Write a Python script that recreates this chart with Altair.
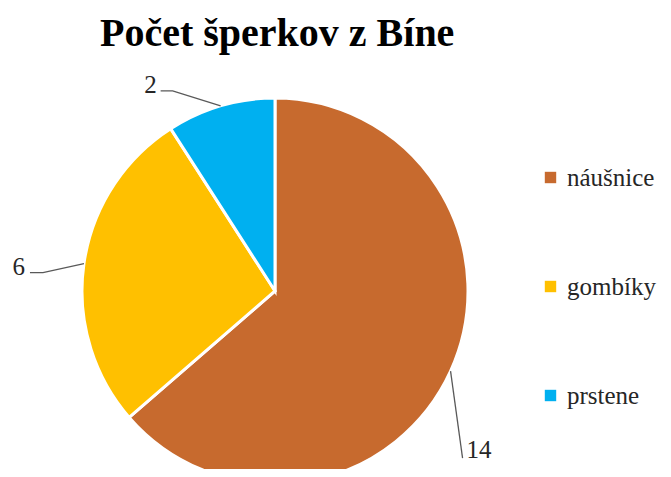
import math
import altair as alt
import pandas as pd

# ---- data ----
categories = ["náušnice", "gombíky", "prstene"]
values = [14, 6, 2]
colors = ["#C76A2E", "#FFC000", "#00B0F0"]
title_text = "Počet šperkov z Bíne"

# ---- layout (view pixels) ----
CX, CY, R = 267, 223, 193
# leader-line layout relative to slice edge point: elbow, end, text pos, align
label_layout = [
    {"elbow": (12, 87), "end": (12, 87), "text": (16, 87), "align": "left"},
    {"elbow": (-41, 9), "end": (-54, 9), "text": (-59, 11), "align": "right"},
    {"elbow": (-48, -15), "end": (-60, -15), "text": (-64, -13), "align": "right"},
]

total = sum(values)
pie_df = pd.DataFrame({"cat": categories, "val": values, "ord": range(len(values))})

line_rows, text_rows = [], []
cum = 0
for i, (c, v) in enumerate(zip(categories, values)):
    a = 2 * math.pi * (cum + v / 2) / total
    cum += v
    ex, ey = CX + R * math.sin(a), CY - R * math.cos(a)
    L = label_layout[i]
    pts = [(ex, ey), (ex + L["elbow"][0], ey + L["elbow"][1]), (ex + L["end"][0], ey + L["end"][1])]
    for k, (px, py) in enumerate(pts):
        line_rows.append({"cat": c, "k": k, "px": px, "py": py})
    text_rows.append({"cat": c, "lbl": str(v), "px": ex + L["text"][0], "py": ey + L["text"][1], "align": L["align"]})

lines_df = pd.DataFrame(line_rows)
text_df = pd.DataFrame(text_rows)

SERIF = "Liberation Serif"

pie = alt.Chart(pie_df).mark_arc(outerRadius=R, stroke="white", strokeWidth=3).encode(
    theta=alt.Theta("val:Q", stack=True),
    order=alt.Order("ord:Q"),
    color=alt.Color(
        "cat:N",
        scale=alt.Scale(domain=categories, range=colors),
        sort=categories,
        legend=alt.Legend(
            title=None,
            orient="none",
            legendX=530,
            legendY=97,
            symbolType="square",
            symbolSize=130,
            symbolStrokeWidth=0,
            labelFontSize=25,
            labelColor="#262626",
            labelOffset=4,
            labelLimit=300,
            rowPadding=83,
        ),
    ),
    x=alt.value(CX),
    y=alt.value(CY),
)

leaders = alt.Chart(lines_df).mark_line(color="#595959", strokeWidth=1.3).encode(
    x=alt.X("px:Q", scale=None, axis=None),
    y=alt.Y("py:Q", scale=None, axis=None),
    detail="cat:N",
    order="k:Q",
)

labels_r = alt.Chart(text_df[text_df["align"] == "right"]).mark_text(
    fontSize=25, color="#262626", align="right", baseline="alphabetic"
).encode(x=alt.X("px:Q", scale=None, axis=None), y=alt.Y("py:Q", scale=None, axis=None), text="lbl:N")

labels_l = alt.Chart(text_df[text_df["align"] == "left"]).mark_text(
    fontSize=25, color="#262626", align="left", baseline="alphabetic"
).encode(x=alt.X("px:Q", scale=None, axis=None), y=alt.Y("py:Q", scale=None, axis=None), text="lbl:N")

chart = (
    alt.layer(pie, leaders, labels_r, labels_l)
    .properties(
        width=655,
        height=401,
        autosize=alt.AutoSizeParams(type="none"),
        padding={"top": 60, "left": 0, "right": 0, "bottom": 0},
        title=alt.TitleParams(
            text=title_text,
            fontSize=40,
            fontWeight="bold",
            color="#000000",
            anchor="start",
            frame="group",
            dx=92,
            offset=14,
        ),
    )
    .configure(background="white", font=SERIF)
    .configure_view(strokeWidth=0, stroke="transparent")
    .configure_title(font=SERIF)
    .configure_legend(labelFont=SERIF)
    .configure_text(font=SERIF)
)

chart.save("out.html", embed_options={"renderer": "svg", "actions": False})
